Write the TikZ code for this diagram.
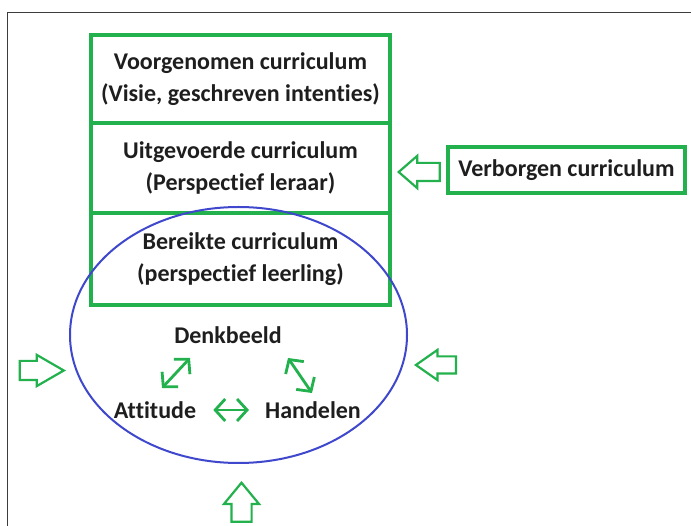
\documentclass[tikz,border=0pt]{standalone}
\usepackage{fontspec}
\setmainfont{Carlito}[Ligatures=NoCommon]
\usetikzlibrary{shapes.geometric,shapes.arrows,arrows.meta}
\definecolor{pgreen}{RGB}{34,177,76}
\definecolor{pblue}{RGB}{63,72,204}
\definecolor{ptext}{RGB}{30,30,30}
\definecolor{pframe}{RGB}{60,60,60}
\begin{document}
\begin{tikzpicture}[x=1pt,y=-1pt,
  lbl/.style={font=\fontsize{24}{32}\selectfont\bfseries, text=ptext, inner sep=0pt},
  layer/.style={lbl, draw=pgreen, line width=4pt, minimum width=299pt, align=center},
  hollow/.style={single arrow, draw=pgreen, line width=2.2pt, inner xsep=0pt, anchor=tip},
  dbl/.style={draw=pgreen, line width=2.8pt, {Straight Barb[length=10pt,width=22pt]}-{Straight Barb[length=10pt,width=22pt]}}
]
\useasboundingbox (0,0) rectangle (691,526);
\fill[white] (0,0) rectangle (691,526);
% frame
\draw[pframe, line width=1.5pt] (7.5,526) -- (7.5,12.5) -- (691,12.5);

% layered boxes
\node[layer, minimum height=88pt] (b1) at (240.5,79) {Voorgenomen curriculum\\(Visie, geschreven intenties)};
\node[layer, minimum height=90pt] (b2) at (240.5,168) {Uitgevoerde curriculum\\(Perspectief leraar)};
\node[layer, minimum height=92pt] (b3) at (240.5,259) {Bereikte curriculum\\(perspectief leerling)};

% hidden curriculum
\node[lbl, draw=pgreen, line width=4.5pt, minimum width=237pt, minimum height=46pt] (vc) at (566.5,170) {Verborgen curriculum};
\node[hollow, rotate=180, minimum height=41pt, inner ysep=8pt, single arrow head extend=7pt, single arrow tip angle=82] (av) at (397,172) {};

% ellipse
\node[draw=pblue, line width=2pt, ellipse, minimum width=337pt, minimum height=256pt] (ell) at (238.5,335) {};

% inner triangle
\node[lbl] (denk) at (228,335) {Denkbeeld};
\node[lbl] (att) at (155,410) {Attitude};
\node[lbl] (han) at (313,410) {Handelen};
\coordinate (a1) at (162,388);
\coordinate (a2) at (190,358);
\coordinate (c1) at (288,358);
\coordinate (c2) at (312,393);
\draw[dbl] (a1) -- (a2);
\draw[dbl] (c1) -- (c2);
\draw[dbl, shorten <=17pt, shorten >=16pt] (att.east) -- (han.west);

% influences
\node[hollow, minimum height=44pt, inner ysep=8.5pt, single arrow head extend=6pt, single arrow tip angle=60] (al) at (66,370.5) {};
\node[hollow, rotate=180, minimum height=40pt, inner ysep=7.5pt, single arrow head extend=6.5pt, single arrow tip angle=70] (ar) at (414,365) {};
\node[hollow, rotate=90, minimum height=39pt, inner ysep=9pt, single arrow head extend=7.5pt, single arrow tip angle=79] (ab) at (241.5,481) {};
\end{tikzpicture}
\end{document}
